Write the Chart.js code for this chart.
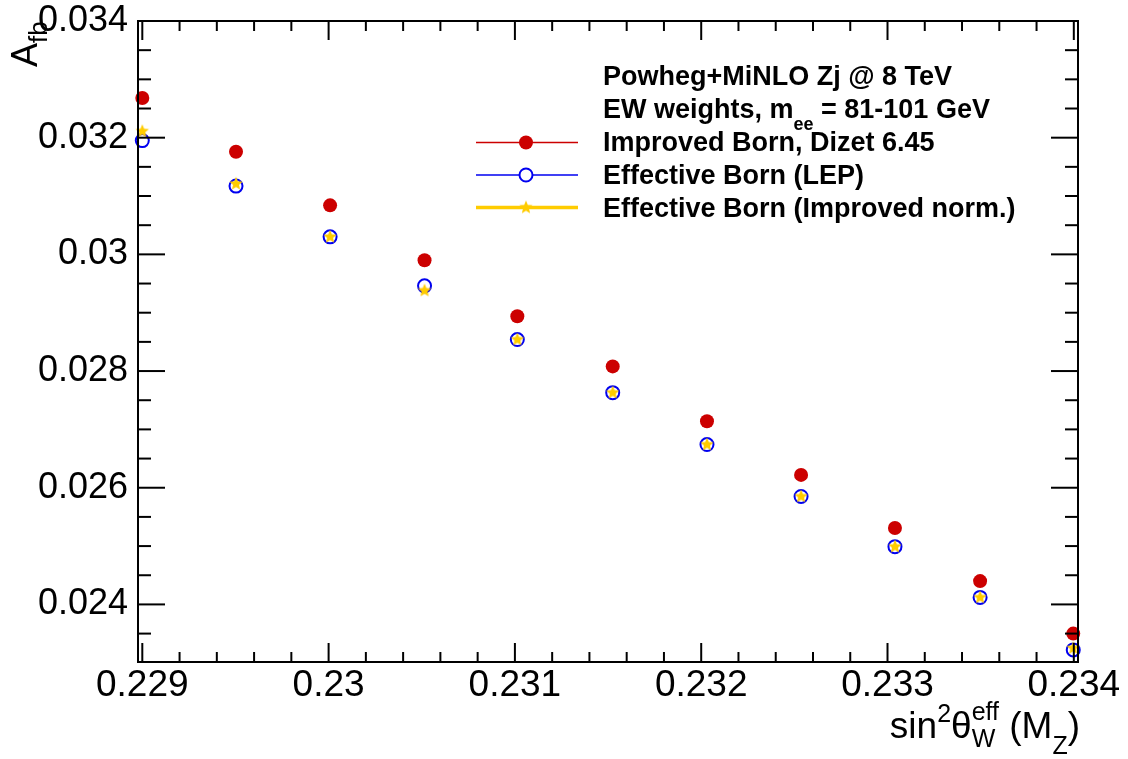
<!DOCTYPE html>
<html>
<head>
<meta charset="utf-8">
<script src="https://cdn.jsdelivr.net/npm/chart.js@4.4.0/dist/chart.umd.min.js"></script>
<style>
  html, body { margin: 0; padding: 0; background: #fff; }
</style>
</head>
<body>
<canvas id="afb" width="1128" height="759"></canvas>
<script>
// sin^2 theta_W^eff values of the scan points
const SIN2W = [0.229, 0.229503, 0.230008, 0.230515, 0.231013, 0.231525, 0.232031, 0.232536, 0.23304, 0.233497, 0.233997];
// A_fb for the three predictions
const AFB_IMPROVED = [0.03268, 0.03176, 0.03084, 0.02990, 0.02894, 0.02808, 0.02714, 0.02622, 0.02531, 0.02440, 0.02350];
const AFB_LEP = [0.03195, 0.03117, 0.03030, 0.02946, 0.02854, 0.02763, 0.02674, 0.02585, 0.02499, 0.02412, 0.02322];
const AFB_IMPNORM = [0.03211, 0.03121, 0.03030, 0.02938, 0.02854, 0.02763, 0.02674, 0.02585, 0.02499, 0.02412, 0.02325];

const X_TICKS = [0.229, 0.23, 0.231, 0.232, 0.233, 0.234];
const Y_TICKS = [0.024, 0.026, 0.028, 0.03, 0.032, 0.034];
const SERIES_NAMES = ["Improved Born, Dizet 6.45", "Effective Born (LEP)", "Effective Born (Improved norm.)"];

const FONT = "'Liberation Sans', Arial, Helvetica, sans-serif";
const RED = "#cc0000";
const BLUE = "#0000f0";
const GOLD = "#ffcc00";

const toPoints = (ys) => SIN2W.map((x, i) => ({ x, y: ys[i] }));

// filled five-point star used as marker
const makeStar = (r, color) => {
  const c = document.createElement("canvas");
  c.width = c.height = Math.ceil(r * 2 + 2);
  const g = c.getContext("2d");
  const cx = c.width / 2, cy = c.height / 2;
  g.beginPath();
  for (let i = 0; i < 10; i++) {
    const rr = i % 2 === 0 ? r : r * 0.45;
    const a = -Math.PI / 2 + i * Math.PI / 5;
    g.lineTo(cx + rr * Math.cos(a), cy + rr * Math.sin(a));
  }
  g.closePath();
  g.fillStyle = color;
  g.fill();
  return c;
};
const STAR = makeStar(7, GOLD);

// draw a run of text pieces with different sizes / baseline shifts
const richWidth = (ctx, pieces) => pieces.reduce((w, p) => {
  ctx.font = `${p.bold ? "bold " : ""}${p.size}px ${FONT}`;
  return w + (p.w !== undefined ? p.w : ctx.measureText(p.t).width);
}, 0);
const drawRich = (ctx, x, y, pieces) => {
  let cx = x;
  for (const p of pieces) {
    ctx.font = `${p.bold ? "bold " : ""}${p.size}px ${FONT}`;
    if (p.stack) {
      let w = 0;
      for (const s of p.stack) {
        ctx.font = `${s.size}px ${FONT}`;
        ctx.fillText(s.t, cx, y + s.dy);
        w = Math.max(w, ctx.measureText(s.t).width);
      }
      cx += w;
      continue;
    }
    ctx.fillText(p.t, cx, y + (p.dy || 0));
    cx += ctx.measureText(p.t).width;
  }
};

const rootFrame = {
  id: "rootFrame",
  afterDraw(chart) {
    const { ctx, chartArea: a, scales: { x, y } } = chart;
    ctx.save();
    ctx.strokeStyle = "#000";
    ctx.lineWidth = 2;
    const seg = (x1, y1, x2, y2) => { ctx.beginPath(); ctx.moveTo(x1, y1); ctx.lineTo(x2, y2); ctx.stroke(); };
    ctx.strokeRect(a.left, a.top, a.right - a.left, a.bottom - a.top);

    for (let i = 0; i <= 25; i++) {
      const px = x.getPixelForValue(0.229 + i * 0.0002);
      const len = i % 5 === 0 ? 19 : 10;
      seg(px, a.bottom, px, a.bottom - len);
      seg(px, a.top, px, a.top + len);
    }
    for (let i = 0; i <= 21; i++) {
      const v = 0.0235 + i * 0.0005;
      if (v < y.min) continue;
      const py = y.getPixelForValue(v);
      const len = (i - 1) % 4 === 0 ? 27 : 13;
      seg(a.left, py, a.left + len, py);
      seg(a.right, py, a.right - len, py);
    }

    ctx.fillStyle = "#000";
    ctx.textBaseline = "alphabetic";
    ctx.textAlign = "left";

    // x axis title
    const xt = [
      { t: "sin", size: 37 },
      { t: "2", size: 25, dy: -16 },
      { t: "\u03b8", size: 37 },
      { stack: [{ t: "eff", size: 25, dy: -18 }, { t: "W", size: 25, dy: 9 }], w: 0, size: 25 },
      { t: " (M", size: 37 },
      { t: "Z", size: 25, dy: 16 },
      { t: ")", size: 37 }
    ];
    ctx.font = `25px ${FONT}`;
    xt[3].w = Math.max(ctx.measureText("eff").width, ctx.measureText("W").width);
    const xw = richWidth(ctx, xt);
    drawRich(ctx, 1080 - xw, 738, xt);

    // y axis title
    ctx.save();
    ctx.translate(37, 67);
    ctx.rotate(-Math.PI / 2);
    drawRich(ctx, 0, 0, [{ t: "A", size: 36 }, { t: "fb", size: 26, dy: 10 }]);
    ctx.restore();

    // legend
    const lx = 603;
    const fs = 27;
    drawRich(ctx, lx, 84.5, [{ t: "Powheg+MiNLO Zj @ 8 TeV", size: fs, bold: true }]);
    drawRich(ctx, lx, 117.5, [
      { t: "EW weights, m", size: fs, bold: true },
      { t: "ee", size: 18, bold: true, dy: 12 },
      { t: " = 81-101 GeV", size: fs, bold: true }
    ]);
    const rows = [
      { base: 150.5, ly: 142.5, color: RED, lw: 1.5 },
      { base: 183.5, ly: 175, color: BLUE, lw: 1.5 },
      { base: 216.5, ly: 207.5, color: GOLD, lw: 3.5 }
    ];
    rows.forEach((r, i) => {
      ctx.strokeStyle = r.color;
      ctx.lineWidth = r.lw;
      seg(476, r.ly, 578, r.ly);
      if (i === 0) {
        ctx.fillStyle = RED;
        ctx.beginPath(); ctx.arc(526, r.ly, 7, 0, Math.PI * 2); ctx.fill();
      } else if (i === 1) {
        ctx.fillStyle = "#fff";
        ctx.beginPath(); ctx.arc(526, r.ly, 6.5, 0, Math.PI * 2); ctx.fill();
        ctx.strokeStyle = BLUE; ctx.lineWidth = 2; ctx.stroke();
      } else {
        ctx.drawImage(STAR, 526 - STAR.width / 2, r.ly - STAR.height / 2);
      }
      ctx.fillStyle = "#000";
      drawRich(ctx, lx, r.base, [{ t: SERIES_NAMES[i], size: fs, bold: true }]);
    });
    ctx.restore();
  }
};

new Chart(document.getElementById("afb"), {
  type: "scatter",
  data: {
    datasets: [
      {
        label: SERIES_NAMES[2], data: toPoints(AFB_IMPNORM), order: 0, clip: false,
        pointStyle: STAR, pointRadius: 7, backgroundColor: GOLD, borderColor: GOLD
      },
      {
        label: SERIES_NAMES[1], data: toPoints(AFB_LEP), order: 1, clip: false,
        pointStyle: "circle", pointRadius: 6.5, borderWidth: 2, backgroundColor: "rgba(0,0,0,0)", borderColor: BLUE
      },
      {
        label: SERIES_NAMES[0], data: toPoints(AFB_IMPROVED), order: 2, clip: false,
        pointStyle: "circle", pointRadius: 7, borderWidth: 0, backgroundColor: RED, borderColor: RED
      }
    ]
  },
  options: {
    responsive: false,
    animation: false,
    devicePixelRatio: 1,
    events: [],
    layout: { autoPadding: false, padding: { left: 0, top: 21, right: 50, bottom: 0 } },
    plugins: { legend: { display: false }, tooltip: { enabled: false } },
    scales: {
      x: {
        type: "linear", position: "bottom",
        min: 0.2289769, max: 0.2340225,
        grid: { display: false, drawTicks: false }, border: { display: false },
        ticks: {
          color: "#000", font: { family: FONT, size: 37 }, padding: 2,
          maxRotation: 0, autoSkip: false,
          callback: (v) => String(+Number(v).toFixed(4))
        },
        afterBuildTicks: (s) => { s.ticks = X_TICKS.map((value) => ({ value })); },
        afterFit: (s) => { s.height = 97; s.paddingLeft = 0; s.paddingRight = 0; }
      },
      y: {
        type: "linear", position: "left",
        min: 0.023013, max: 0.034,
        grid: { display: false, drawTicks: false }, border: { display: false },
        ticks: {
          color: "#000", font: { family: FONT, size: 36 }, padding: 10,
          autoSkip: false,
          callback: (v) => String(+Number(v).toFixed(4))
        },
        afterBuildTicks: (s) => { s.ticks = Y_TICKS.map((value) => ({ value })); },
        afterFit: (s) => { s.width = 138; s.paddingTop = 0; s.paddingBottom = 0; }
      }
    }
  },
  plugins: [rootFrame]
});
</script>
</body>
</html>
